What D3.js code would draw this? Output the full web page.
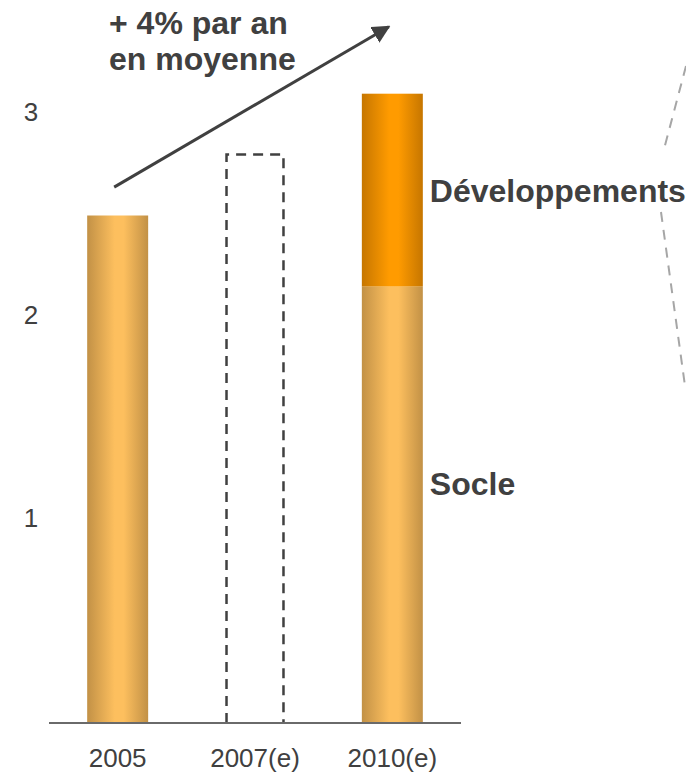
<!DOCTYPE html>
<html>
<head>
<meta charset="utf-8">
<script src="https://cdn.jsdelivr.net/npm/d3@7"></script>
<style>
  html, body { margin: 0; padding: 0; background: #fff; }
  svg { display: block; }
  text { font-family: "Liberation Sans", Arial, sans-serif; fill: #404040; }
</style>
</head>
<body>
<svg id="chart" width="686" height="772"></svg>
<script>
// ---- data ----
const categories = ["2005", "2007(e)", "2010(e)"];
const socleValues = [2.50, null, 2.15];
const developpementsValues = [0, null, 0.95];
const estimatedValues = [null, 2.80, null];
const yTickValues = [1, 2, 3];
const seriesLabels = ["Socle", "Développements"];
const annotationLines = ["+ 4% par an", "en moyenne"];
const growthArrow = [[0, 2.64], [2, 3.43]]; // [category index, value] start -> end

// ---- layout ----
const svg = d3.select("#chart");
const x = d3.scaleBand().domain(categories).range([49, 461])
  .paddingInner(0.556).paddingOuter(0.278);
const y = d3.scaleLinear().domain([0, 3]).range([723, 114]);

const defs = svg.append("defs");
function hGrad(id, edge, center) {
  const g = defs.append("linearGradient").attr("id", id)
    .attr("x1", "0%").attr("x2", "100%").attr("y1", "0%").attr("y2", "0%");
  g.append("stop").attr("offset", "0%").attr("stop-color", edge);
  g.append("stop").attr("offset", "45%").attr("stop-color", center);
  g.append("stop").attr("offset", "60%").attr("stop-color", center);
  g.append("stop").attr("offset", "100%").attr("stop-color", edge);
}
hGrad("gSocle", "#c29146", "#fdbf5e");
hGrad("gDev", "#c67600", "#ff9b00");
defs.append("marker").attr("id", "arrowHead")
  .attr("viewBox", "0 0 10 10").attr("refX", 9).attr("refY", 5)
  .attr("markerWidth", 6).attr("markerHeight", 6).attr("markerUnits", "strokeWidth")
  .attr("orient", "auto")
  .append("path").attr("d", "M0,0 L10,5 L0,10 Z").attr("fill", "#404040");

// socle bars
const socleData = categories.map((c, i) => ({ c, v: socleValues[i] })).filter(d => d.v != null);
svg.append("g").selectAll("rect").data(socleData).join("rect")
  .attr("x", d => x(d.c)).attr("width", x.bandwidth())
  .attr("y", d => y(d.v)).attr("height", d => y(0) - y(d.v))
  .attr("fill", "url(#gSocle)");

// developpements segment
const devData = categories.map((c, i) => ({ c, base: socleValues[i], v: developpementsValues[i] }))
  .filter(d => d.v);
svg.append("g").selectAll("rect").data(devData).join("rect")
  .attr("x", d => x(d.c)).attr("width", x.bandwidth())
  .attr("y", d => y(d.base + d.v)).attr("height", d => y(d.base) - y(d.base + d.v))
  .attr("fill", "url(#gDev)");

// estimated (dashed) bar
const estData = categories.map((c, i) => ({ c, v: estimatedValues[i] })).filter(d => d.v != null);
svg.append("g").selectAll("path").data(estData).join("path")
  .attr("d", d => {
    const x0 = x(d.c) + 2, x1 = x(d.c) + x.bandwidth() - 2;
    return `M${x0},${y(0)} L${x0},${y(d.v)} L${x1},${y(d.v)} L${x1},${y(0)}`;
  })
  .attr("fill", "none").attr("stroke", "#404040").attr("stroke-width", 2.5)
  .attr("stroke-dasharray", "10,7");

// baseline
svg.append("line").attr("x1", 49).attr("x2", 461).attr("y1", y(0)).attr("y2", y(0))
  .attr("stroke", "#6a6a6a").attr("stroke-width", 2);

// y tick labels
svg.append("g").selectAll("text").data(yTickValues).join("text")
  .attr("x", 31).attr("y", d => y(d) - 2).attr("dy", "0.36em")
  .attr("text-anchor", "middle").style("font-size", "26px")
  .text(d => d);

// x labels
svg.append("g").selectAll("text").data(categories).join("text")
  .attr("x", d => x(d) + x.bandwidth() / 2).attr("y", 758).attr("dy", "0.36em")
  .attr("text-anchor", "middle").style("font-size", "26px")
  .text(d => d);

// series labels
const lastCat = categories[2];
svg.append("text").attr("x", x(lastCat) + x.bandwidth() + 7)
  .attr("y", y(socleValues[2] + developpementsValues[2] / 2)).attr("dy", "0.36em")
  .style("font-size", "32px").style("font-weight", "bold").text(seriesLabels[1]);
svg.append("text").attr("x", x(lastCat) + x.bandwidth() + 7)
  .attr("y", y(1.18)).attr("dy", "0.36em")
  .style("font-size", "32px").style("font-weight", "bold").text(seriesLabels[0]);

// growth arrow
svg.append("line")
  .attr("x1", x(categories[growthArrow[0][0]]) + 27).attr("y1", y(growthArrow[0][1]))
  .attr("x2", x(categories[growthArrow[1][0]]) + 27).attr("y2", y(growthArrow[1][1]))
  .attr("stroke", "#404040").attr("stroke-width", 3)
  .attr("marker-end", "url(#arrowHead)");

// annotation
svg.append("g").selectAll("text").data(annotationLines).join("text")
  .attr("x", 109).attr("y", (d, i) => 22 + i * 36).attr("dy", "0.36em")
  .style("font-size", "32px").style("font-weight", "bold").text(d => d);

// zoom-out dashed guides on the right
const guide = [[[686, 66], [663, 153]], [[661, 212], [685, 386]]];
svg.append("g").selectAll("line").data(guide).join("line")
  .attr("x1", d => d[0][0]).attr("y1", d => d[0][1])
  .attr("x2", d => d[1][0]).attr("y2", d => d[1][1])
  .attr("stroke", "#a6a6a6").attr("stroke-width", 2).attr("stroke-dasharray", "10,8");
</script>
</body>
</html>
